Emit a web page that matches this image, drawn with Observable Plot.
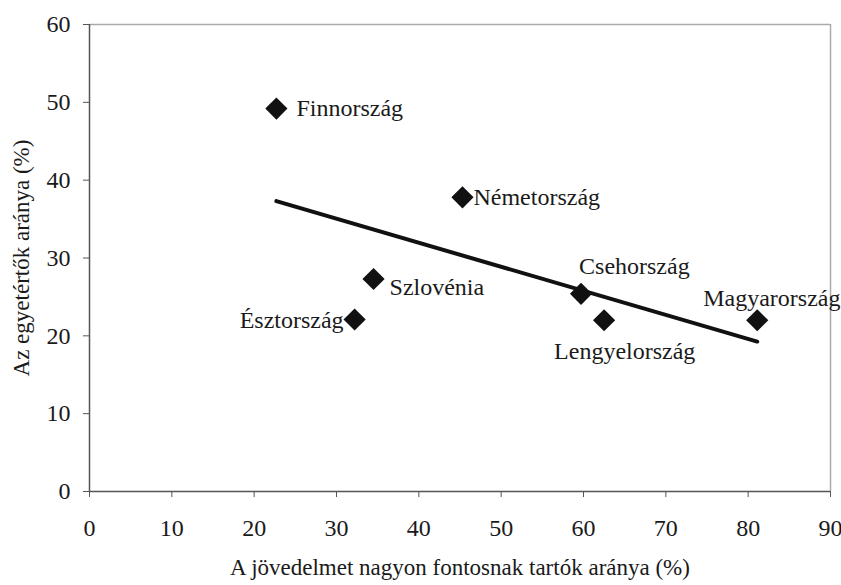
<!DOCTYPE html>
<html>
<head>
<meta charset="utf-8">
<script src="https://cdn.jsdelivr.net/npm/d3@7"></script>
<script src="https://cdn.jsdelivr.net/npm/@observablehq/plot@0.6"></script>
<style>
  html, body { margin: 0; padding: 0; background: #fff; }
</style>
</head>
<body>
<div id="chart"></div>
<script>
// Data
const countries = ["Finnország", "Németország", "Szlovénia", "Észtország", "Csehország", "Lengyelország", "Magyarország"];
const incomeImportant = [22.7, 45.3, 34.5, 32.2, 59.7, 62.5, 81.1];
const agreeShare = [49.2, 37.8, 27.3, 22.1, 25.4, 22.0, 22.0];
const xTicks = [0, 10, 20, 30, 40, 50, 60, 70, 80, 90];
const yTicks = [0, 10, 20, 30, 40, 50, 60];
const xTitle = "A jövedelmet nagyon fontosnak tartók aránya (%)";
const yTitle = "Az egyetértők aránya (%)";

const data = countries.map((c, i) => ({country: c, x: incomeImportant[i], y: agreeShare[i]}));

// Label placement (layout only)
const labelLayout = {
  "Finnország":    {textAnchor: "start", dx: 20, dy: 0},
  "Németország":   {textAnchor: "start", dx: 11, dy: 0},
  "Szlovénia":     {textAnchor: "start", dx: 16, dy: 8},
  "Észtország":    {textAnchor: "end",   dx: -11, dy: 1},
  "Csehország":    {textAnchor: "start", dx: -2, dy: -27},
  "Lengyelország": {textAnchor: "start", dx: -50, dy: 31},
  "Magyarország":  {textAnchor: "start", dx: -54, dy: -22}
};

const font = "'Liberation Serif', 'Times New Roman', serif";

const labelMarks = data.map(d => Plot.text([d], {
  x: "x", y: "y", text: "country",
  fontSize: 24, fill: "#1a1a1a",
  ...labelLayout[d.country]
}));

const chart = Plot.plot({
  width: 841,
  height: 585,
  marginLeft: 89,
  marginRight: 11,
  marginTop: 24,
  marginBottom: 94,
  style: {fontFamily: font, fontSize: "24px", color: "#1a1a1a", background: "#fff"},
  x: {domain: [0, 90]},
  y: {domain: [0, 60]},
  marks: [
    Plot.ruleY([60], {stroke: "#aaa", strokeWidth: 1.5}),
    Plot.ruleX([90], {stroke: "#aaa", strokeWidth: 1.5}),
    Plot.ruleX([0], {stroke: "#555", strokeWidth: 1.5}),
    Plot.ruleY([0], {stroke: "#555", strokeWidth: 1.5}),
    Plot.axisY({ticks: yTicks, tickSize: 6, tickPadding: 13, label: null, stroke: "#555", fontSize: 24}),
    Plot.axisX({ticks: xTicks, tickSize: 6, tickPadding: 21, label: null, stroke: "#555", fontSize: 24}),
    Plot.linearRegressionY(data, {x: "x", y: "y", ci: 0, stroke: "#111", strokeWidth: 4}),
    Plot.dot(data, {x: "x", y: "y", symbol: "diamond2", r: 10, fill: "#111", stroke: null}),
    ...labelMarks,
    Plot.text([xTitle], {frameAnchor: "bottom", textAnchor: "middle", dy: 83, fontSize: 23, fill: "#1a1a1a"}),
    Plot.text([yTitle], {frameAnchor: "left", textAnchor: "middle", rotate: -90, dx: -68, fontSize: 23, fill: "#1a1a1a"})
  ]
});
document.getElementById("chart").appendChild(chart);
</script>
</body>
</html>
